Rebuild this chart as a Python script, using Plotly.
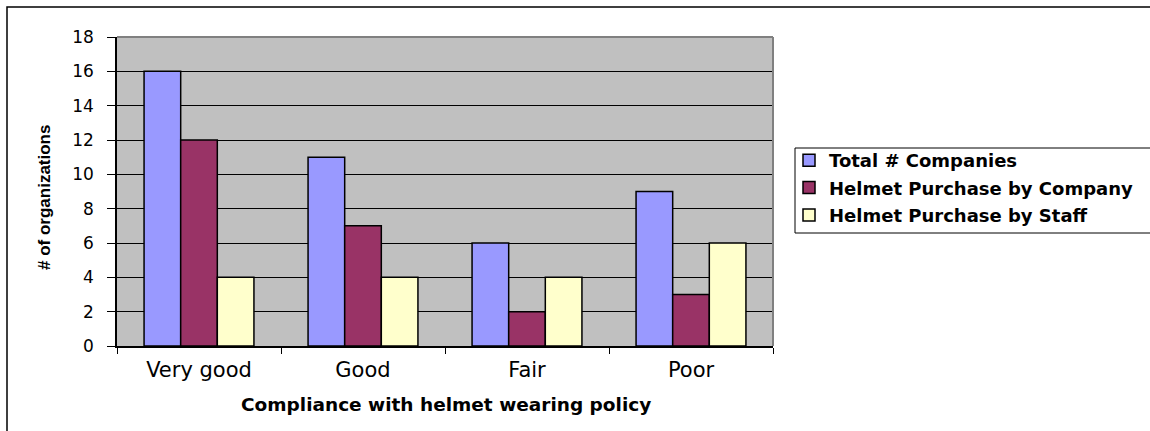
import plotly.graph_objects as go

categories = ["Very good", "Good", "Fair", "Poor"]
total_companies = [16, 11, 6, 9]
purchase_by_company = [12, 7, 2, 3]
purchase_by_staff = [4, 4, 4, 6]
series_names = ["Total # Companies", "Helmet Purchase by Company", "Helmet Purchase by Staff"]
series_colors = ["#9999FF", "#993366", "#FFFFCC"]
y_ticks = [0, 2, 4, 6, 8, 10, 12, 14, 16, 18]

W, H = 1150, 431
L, R, T, B = 117, 773, 37, 346
pw, ph = R - L, B - T

def px(x):
    return (x - L) / pw

def py(y):
    return (B - y) / ph

fig = go.Figure()
for i, (name, vals, col) in enumerate(zip(series_names,
                                          [total_companies, purchase_by_company, purchase_by_staff],
                                          series_colors)):
    fig.add_trace(go.Bar(
        x=categories, y=vals, name=name, legendgroup=str(i),
        marker=dict(color=col, line=dict(color="#000000", width=1.5)),
    ))

fig.update_layout(
    width=W, height=H,
    margin=dict(l=L, r=W - R, t=T, b=H - B, autoexpand=False),
    paper_bgcolor="white",
    plot_bgcolor="#C0C0C0",
    barmode="group", bargap=0.33, bargroupgap=0,
    font=dict(family="Arial, Liberation Sans, sans-serif", color="#000000"),
    showlegend=True,
    legend=dict(
        x=px(789), y=py(142), xanchor="left", yanchor="top",
        bgcolor="rgba(0,0,0,0)", borderwidth=0,
        font=dict(family="DejaVu Sans", size=18, weight="bold", color="#000000"),
        traceorder="grouped", tracegroupgap=1, itemwidth=30,
    ),
    xaxis=dict(
        tickson="boundaries", ticks="outside", ticklen=6, tickcolor="#000000",
        showline=True, linecolor="#000000", linewidth=1.5,
        tickfont=dict(family="DejaVu Sans", size=21, color="#000000"),
        ticklabelstandoff=4,
        showgrid=False,
    ),
    yaxis=dict(
        range=[0, 18], tickvals=y_ticks, ticks="outside", ticklen=8, tickcolor="#000000",
        showline=True, linecolor="#000000", linewidth=1.5,
        showgrid=True, gridcolor="#000000", gridwidth=1,
        tickfont=dict(family="DejaVu Sans", size=17, color="#000000"),
        ticklabelstandoff=10,
        zeroline=False,
    ),
    shapes=[
        # outer chart border (extends past right/bottom edges)
        dict(type="rect", xref="paper", yref="paper",
             x0=px(7), x1=px(1170), y0=py(450), y1=py(7),
             line=dict(color="#000000", width=1.5), fillcolor="rgba(0,0,0,0)", layer="below"),
        # legend box (extends past right edge)
        dict(type="rect", xref="paper", yref="paper",
             x0=px(795), x1=px(1170), y0=py(233), y1=py(148),
             line=dict(color="#000000", width=1), fillcolor="white", layer="below"),
        # gray top and right plot borders
        dict(type="line", xref="paper", yref="paper", x0=0, x1=1, y0=1, y1=1,
             line=dict(color="#808080", width=2), layer="above"),
        dict(type="line", xref="paper", yref="paper", x0=1, x1=1, y0=0, y1=1,
             line=dict(color="#808080", width=2), layer="above"),
    ],
    annotations=[
        dict(text="<b>Compliance with helmet wearing policy</b>", xref="paper", yref="paper",
             x=px(446), y=py(404), showarrow=False, xanchor="center", yanchor="middle",
             font=dict(family="DejaVu Sans", size=18.5, color="#000000")),
        dict(text="<b># of organizations</b>", xref="paper", yref="paper",
             x=px(44), y=py(198), showarrow=False, xanchor="center", yanchor="middle",
             textangle=-90,
             font=dict(family="Liberation Sans, Arial", size=17, color="#000000")),
    ],
)

fig.write_html("out.html")
